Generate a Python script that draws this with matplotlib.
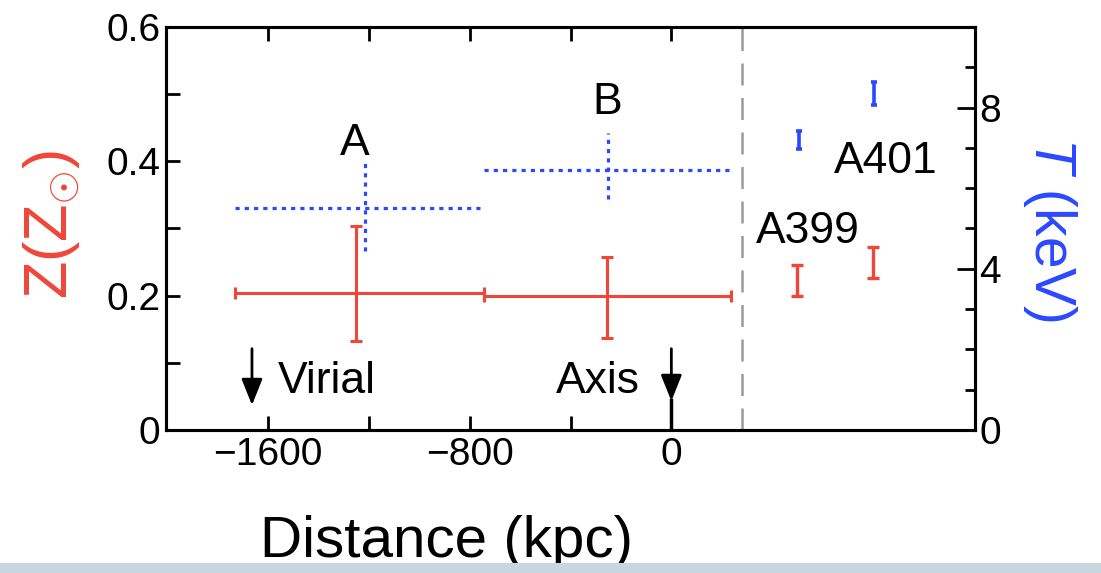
import matplotlib
matplotlib.use("Agg")
import matplotlib.pyplot as plt
from matplotlib.patches import Rectangle
from matplotlib.ticker import MultipleLocator, FixedLocator

plt.rcParams['font.family'] = ['Liberation Sans', 'DejaVu Sans']
plt.rcParams['mathtext.fontset'] = 'custom'
plt.rcParams['mathtext.rm'] = 'Liberation Sans'
plt.rcParams['mathtext.it'] = 'Liberation Sans:italic'
plt.rcParams['mathtext.fallback'] = 'cm'

# Regions A and B (distance bins, kpc)
bin_left = [-1730, -745]
bin_right = [-745, 235]
region_names = ['A', 'B']

# Metallicity Z (solar)
z_x = [-1250, -255]
z_val = [0.204, 0.200]
z_lo = [0.133, 0.137]
z_hi = [0.304, 0.257]

# Temperature T (keV)
t_x = [-1215, -250]
t_val = [5.50, 6.44]
t_lo = [4.45, 5.74]
t_hi = [6.62, 7.36]

# Comparison clusters (placed right of the dashed line)
cl_names = ['A399', 'A401']
cl_x = [500, 800]
cl_z = [0.222, 0.250]
cl_z_lo = [0.200, 0.227]
cl_z_hi = [0.245, 0.272]
cl_tx = [505, 805]
cl_t = [7.20, 8.35]
cl_t_lo = [6.98, 8.06]
cl_t_hi = [7.43, 8.63]

RED = '#f0463a'
BLUE = '#2a48ff'

fig = plt.figure(figsize=(11.01, 5.73), dpi=100)
ax = fig.add_axes([0.1508, 0.2496, 0.7348, 0.7033])
ax2 = ax.twinx()

# red metallicity points
xerr = [[x - l for x, l in zip(z_x, bin_left)], [r - x for x, r in zip(z_x, bin_right)]]
yerr = [[v - l for v, l in zip(z_val, z_lo)], [h - v for v, h in zip(z_val, z_hi)]]
ax.errorbar(z_x, z_val, xerr=xerr, yerr=yerr, fmt='none', ecolor=RED,
            elinewidth=2.2, capsize=4.5, capthick=2.2)
ax.errorbar(cl_x, cl_z, yerr=[[v - l for v, l in zip(cl_z, cl_z_lo)],
                              [h - v for v, h in zip(cl_z, cl_z_hi)]],
            fmt='none', ecolor=RED, elinewidth=2.4, capsize=4.5, capthick=2.4)

# blue temperature points (dotted)
txerr = [[x - l for x, l in zip(t_x, bin_left)], [r - x for x, r in zip(t_x, bin_right)]]
tyerr = [[v - l for v, l in zip(t_val, t_lo)], [h - v for v, h in zip(t_val, t_hi)]]
eb = ax2.errorbar(t_x, t_val, xerr=txerr, yerr=tyerr, fmt='none', ecolor=BLUE,
                  elinewidth=2.3, capsize=0)
for lc in eb[2]:
    lc.set_linestyle((0, (1.3, 1.6)))
ax2.errorbar(cl_tx, cl_t, yerr=[[v - l for v, l in zip(cl_t, cl_t_lo)],
                               [h - v for v, h in zip(cl_t, cl_t_hi)]],
             fmt='none', ecolor=BLUE, elinewidth=2.6, capsize=2.5, capthick=2.6)

# dashed separator
ax.axvline(280, color='#9a9a9a', lw=1.8, dashes=(8.8, 5))

# labels for regions and clusters
ax.text(-1255, 0.427, 'A', fontsize=32, ha='center', va='center')
ax.text(-255, 0.487, 'B', fontsize=32, ha='center', va='center')
ax.text(540, 0.296, 'A399', fontsize=32, ha='center', va='center')
ax.text(850, 0.400, 'A401', fontsize=32, ha='center', va='center')
ax.text(-1560, 0.072, 'Virial', fontsize=32, ha='left', va='center')
ax.text(-290, 0.072, 'Axis', fontsize=32, ha='center', va='center')

# arrows
arrow_style = '-|>,head_length=0.8,head_width=0.32'
ax.annotate('', xy=(-1664, 0.037), xytext=(-1664, 0.121),
            arrowprops=dict(arrowstyle=arrow_style, color='black', lw=2,
                            mutation_scale=20, shrinkA=0, shrinkB=0))
ax.annotate('', xy=(0, 0.043), xytext=(0, 0.121),
            arrowprops=dict(arrowstyle=arrow_style, color='black', lw=2,
                            mutation_scale=20, shrinkA=0, shrinkB=0))
ax.plot([0, 0], [0.045, 0], color='black', lw=2.5)

# axes limits and ticks
ax.set_xlim(-2005, 1205)
ax.set_ylim(0, 0.6)
ax2.set_ylim(0, 10)
ax.xaxis.set_major_locator(FixedLocator([-1600, -800, 0]))
ax.xaxis.set_minor_locator(FixedLocator([-1200, -400]))
ax.set_xticklabels(['\u22121600', '\u2212800', '0'])
ax.yaxis.set_major_locator(FixedLocator([0, 0.2, 0.4, 0.6]))
ax.yaxis.set_minor_locator(FixedLocator([0.1, 0.3, 0.5]))
ax.set_yticklabels(['0', '0.2', '0.4', '0.6'])
ax2.yaxis.set_major_locator(FixedLocator([0, 4, 8]))
ax2.yaxis.set_minor_locator(MultipleLocator(1))

for spine in list(ax.spines.values()) + list(ax2.spines.values()):
    spine.set_linewidth(2.2)

ax.tick_params(axis='both', which='both', direction='in', width=2,
               labelsize=28, top=True, right=False)
ax.tick_params(axis='y', which='both', length=10, pad=4)
ax.tick_params(axis='x', which='both', length=10, pad=5)
ax2.tick_params(axis='y', which='major', direction='in', length=13, width=2,
                labelsize=28, pad=3)
ax2.tick_params(axis='y', which='minor', direction='in', length=7, width=2)

# axis titles
ax.text(-0.141, 0.51, r'Z(Z$_{\odot}$)', transform=ax.transAxes, rotation=90,
        fontsize=44, color=RED, ha='center', va='center')
ax.text(1.093, 0.496, r'$T$ (keV)', transform=ax.transAxes, rotation=270,
        fontsize=41, color=BLUE, ha='center', va='center')
ax.text(0.347, -0.315, 'Distance (kpc)', transform=ax.transAxes,
        fontsize=42, ha='center', va='baseline')

# light band along the bottom edge
fig.patches.append(Rectangle((0, 0), 1, 10 / 573, transform=fig.transFigure,
                             facecolor='#c9d5df', edgecolor='none'))

fig.savefig('out.png', dpi=100)
